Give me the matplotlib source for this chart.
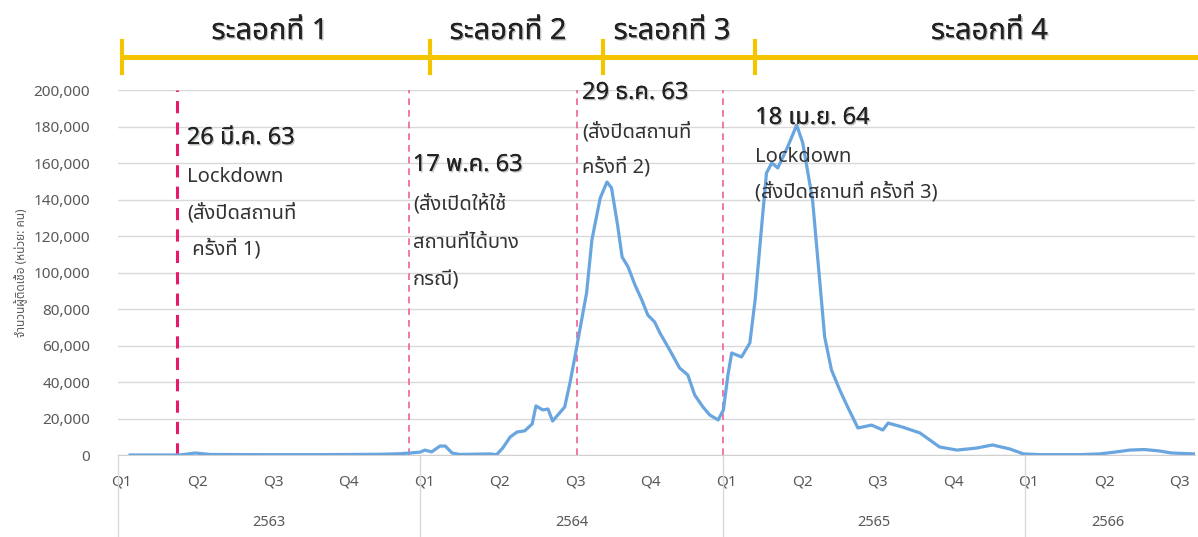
import matplotlib
matplotlib.use("Agg")
import matplotlib.pyplot as plt
import matplotlib.patheffects as pe
from matplotlib import font_manager
from matplotlib.ft2font import FT2Font

# ---- data (x in quarters from 2563 Q1) ----
t_quarter = [0.16, 0.82, 1.02, 1.22, 1.88, 2.67, 3.47, 3.73, 3.89, 4.00, 4.06, 4.15, 4.26, 4.33,
             4.42, 4.52, 4.92, 5.01, 5.09, 5.19, 5.28, 5.38, 5.48, 5.53, 5.62, 5.69, 5.75, 5.91,
             5.98, 6.05, 6.11, 6.20, 6.27, 6.38, 6.47, 6.53, 6.61, 6.67, 6.75, 6.84, 6.93, 7.01,
             7.10, 7.17, 7.30, 7.43, 7.54, 7.63, 7.74, 7.83, 7.94, 8.01, 8.07, 8.12, 8.25, 8.36,
             8.43, 8.52, 8.58, 8.65, 8.73, 8.86, 8.98, 9.06, 9.19, 9.35, 9.44, 9.55, 9.66, 9.79,
             9.97, 10.12, 10.19, 10.38, 10.61, 10.87, 11.10, 11.36, 11.57, 11.80, 11.98, 12.20,
             12.72, 12.99, 13.19, 13.39, 13.58, 13.78, 13.94, 14.25]
cases = [0, 0, 1100, 300, 200, 200, 400, 700, 1200, 1600, 2700, 1700, 4900, 4900,
         1100, 300, 600, 200, 3800, 9900, 12600, 13200, 17000, 26900, 24700, 25200, 18600, 26300,
         39500, 54800, 68500, 88800, 117800, 140800, 149600, 146300, 126000, 108500, 103000, 93200, 85000, 76700,
         72900, 66900, 57500, 47700, 43800, 32900, 26300, 21900, 19200, 24700, 43800, 55900, 53700, 61400,
         85000, 127100, 154500, 160000, 157300, 168800, 180800, 171000, 139700, 64700, 46600, 35600, 25800, 14800,
         16400, 13700, 17500, 15300, 12100, 4400, 2700, 3800, 5500, 3300, 600, 200,
         200, 600, 1600, 2700, 3000, 2200, 1100, 600]

quarter_labels = ["Q1", "Q2", "Q3", "Q4"] * 3 + ["Q1", "Q2", "Q3"]
year_labels = ["2563", "2564", "2565", "2566"]
year_centers = [2.0, 6.0, 10.0, 13.1]
year_starts = [0, 4, 8, 12]

event_x = [0.78, 3.85, 6.07, 8.0]
event_titles = ["26 มี.ค. 63", "17 พ.ค. 63", "29 ธ.ค. 63", "18 เม.ย. 64"]
event_notes = [["Lockdown", "(สั่งปิดสถานที่", " ครั้งที่ 1)"],
               ["(สั่งเปิดให้ใช้", "สถานที่ได้บาง", "กรณี)"],
               ["(สั่งปิดสถานที่", "ครั้งที่ 2)"],
               ["Lockdown", "(สั่งปิดสถานที่ ครั้งที่ 3)"]]
event_text_x = [0.91, 3.90, 6.14, 8.43]
event_title_y = [173700, 158900, 198400, 184700]

wave_labels = ["ระลอกที่ 1", "ระลอกที่ 2", "ระลอกที่ 3", "ระลอกที่ 4"]
wave_bounds = [0.05, 4.13, 6.42, 8.43, 14.29]
wave_centers = [2.01, 5.16, 7.33, 11.53]


def thai_font():
    found = []
    for f in font_manager.fontManager.ttflist:
        try:
            if 0x0E01 in FT2Font(f.fname).get_charmap():
                found.append(f.name)
        except Exception:
            pass
    found = sorted(set(found))
    for pref in ["Noto Sans Thai", "Noto Sans Thai Looped", "Tahoma", "Leelawadee UI", "Loma", "Garuda"]:
        if pref in found:
            return pref
    return found[0] if found else None


tf = thai_font()
fams = ([tf] if tf else []) + ["DejaVu Sans"]
plt.rcParams["font.family"] = fams

fig = plt.figure(figsize=(11.98, 5.37), dpi=100)
ax = fig.add_axes([0.0985, 0.1527, 0.899, 0.6797])

ax.set_xlim(0, 14.25)
ax.set_ylim(0, 200000)
ax.set_yticks(range(0, 200001, 20000))
ax.yaxis.set_major_formatter(matplotlib.ticker.FuncFormatter(lambda v, p: f"{int(v):,}"))
ax.tick_params(axis="y", length=0, pad=20, labelsize=11, labelcolor="#595959")
ax.grid(axis="y", color="#d9d9d9", lw=1)
ax.set_axisbelow(True)
for s in ["left", "right", "top"]:
    ax.spines[s].set_visible(False)
ax.spines["bottom"].set_color("#d0d0d0")

q_pos = [i + 0.05 for i in range(len(quarter_labels))]
ax.set_xticks(q_pos, quarter_labels)
ax.tick_params(axis="x", length=0, pad=14, labelsize=11, labelcolor="#595959")

xt = ax.get_xaxis_transform()
for x0 in year_starts:
    ax.plot([x0, x0], [0, -0.225], color="#d9d9d9", lw=1, transform=xt, clip_on=False)
for xc, lab in zip(year_centers, year_labels):
    ax.text(xc, -0.184, lab, transform=xt, ha="center", va="center", fontsize=10.5, color="#595959")

ax.set_ylabel("จำนวนผู้ติดเชื้อ (หน่วย: คน)", fontsize=8.5, color="#595959", labelpad=4)

# event lines
for i, x in enumerate(event_x):
    if i == 0:
        ax.axvline(x, color="#e8196b", lw=2.2, ls=(0, (4, 3)), zorder=3)
    else:
        ax.axvline(x, color="#f0609a", lw=1.2, ls=(0, (4, 3)), zorder=3)

ax.plot(t_quarter, cases, color="#69a5df", lw=2.3, zorder=4)

shadow = [pe.withSimplePatchShadow(offset=(1, -1), shadow_rgbFace="#999999", alpha=0.6), pe.Normal()]
line_gap = [19800, 21000, 19000, 19000]
for i in range(4):
    x = event_text_x[i]
    y = event_title_y[i]
    ax.text(x, y, event_titles[i], ha="left", va="center", fontsize=17, fontweight="bold",
            color="#222222", path_effects=shadow, zorder=5, clip_on=False)
    yy = y - 21500
    for note in event_notes[i]:
        ax.text(x, yy, note, ha="left", va="center", fontsize=14.5, color="#333333", zorder=5)
        yy -= line_gap[i]

# wave timeline on top
ax.plot([wave_bounds[0], wave_bounds[-1]], [1.09, 1.09], color="#f5c400", lw=3.6,
        transform=xt, clip_on=False, solid_capstyle="butt")
for b in wave_bounds[:-1]:
    ax.plot([b, b], [1.047, 1.133], color="#f5c400", lw=3, transform=xt, clip_on=False)
for xc, lab in zip(wave_centers, wave_labels):
    ax.text(xc, 1.16, lab, transform=xt, ha="center", va="center", fontsize=21,
            fontweight="bold", color="#222222", path_effects=shadow)

fig.savefig("out.png", dpi=100)
